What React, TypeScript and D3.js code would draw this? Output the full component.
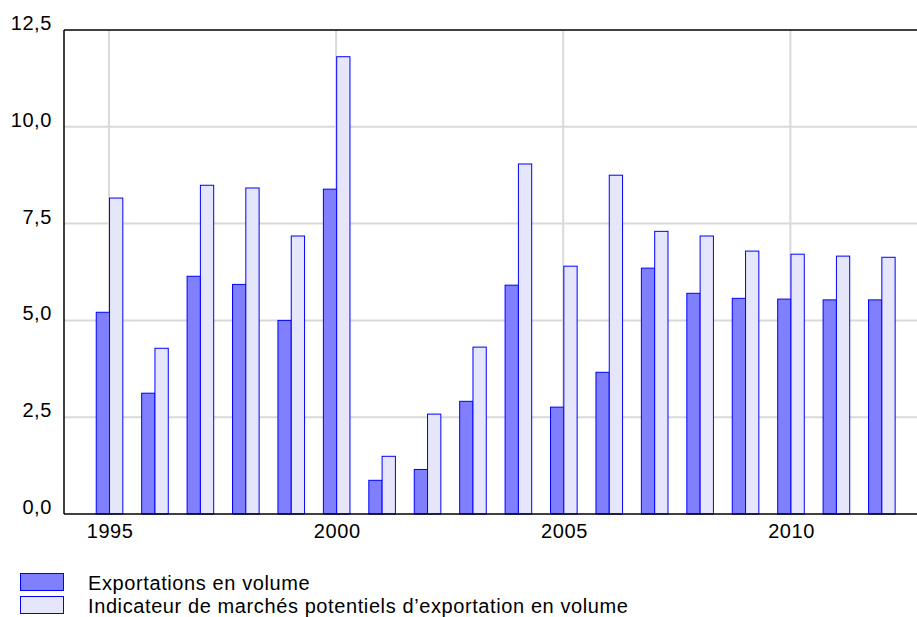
import React from "react";
import * as d3 from "d3";

const years = [1995, 1996, 1997, 1998, 1999, 2000, 2001, 2002, 2003, 2004, 2005, 2006, 2007, 2008, 2009, 2010, 2011, 2012];
const exportations = [5.21, 3.12, 6.14, 5.93, 5.0, 8.39, 0.87, 1.15, 2.91, 5.91, 2.76, 3.66, 6.35, 5.7, 5.57, 5.55, 5.53, 5.53];
const indicateur = [8.16, 4.28, 8.49, 8.42, 7.18, 11.81, 1.49, 2.58, 4.31, 9.04, 6.4, 8.75, 7.3, 7.18, 6.79, 6.71, 6.66, 6.63];
const yTicks = [0, 2.5, 5, 7.5, 10, 12.5];
const xTicks = [1995, 2000, 2005, 2010];
const seriesNames = ["Exportations en volume", "Indicateur de marchés potentiels d\u2019exportation en volume"];
const seriesKeys = ["exp", "ind"];

const FILLS = ["#8080ff", "#e6e6fa"];
const STROKE = "#0000ff";
const FONT = "'Liberation Sans', Arial, Helvetica, sans-serif";

export default function App() {
  const W = 917;
  const H = 617;
  const left = 64;
  const top = 30;
  const bottom = 514;
  const step = 45.43;

  const x = d3.scaleLinear().domain([1994, 2013]).range([left - 0.5, left - 0.5 + 19 * step]);
  const y = d3.scaleLinear().domain([0, 12.5]).range([bottom, top]);
  const sub = d3.scaleBand().domain(seriesKeys).range([-12.7, 13.9]).padding(0);
  const fmt = (v: number) => d3.format(".1f")(v).replace(".", ",");
  const data = [exportations, indicateur];
  const fs = 20;
  const ls = 0.6;

  return (
    <svg width={W} height={H} style={{ position: "absolute", left: 0, top: 0 }} fontFamily={FONT}>
      <rect x={0} y={0} width={W} height={H} fill="#fff" />
      {/* grid */}
      {yTicks.filter((t) => t > 0 && t < 12.5).map((t) => (
        <line key={"gy" + t} x1={left} x2={W} y1={y(t)} y2={y(t)} stroke="#d9d9d9" strokeWidth={2} />
      ))}
      {xTicks.map((t) => (
        <line key={"gx" + t} x1={x(t)} x2={x(t)} y1={top} y2={bottom} stroke="#d9d9d9" strokeWidth={2} />
      ))}
      {/* bars */}
      {data.map((vals, si) =>
        vals.map((v, i) => (
          <rect
            key={si + "-" + i}
            x={x(years[i]) + (sub(seriesKeys[si]) as number)}
            y={y(v)}
            width={sub.bandwidth()}
            height={y(0) - y(v)}
            fill={FILLS[si]}
            stroke={STROKE}
            strokeWidth={1}
          />
        ))
      )}
      {/* axes */}
      <line x1={left} x2={W} y1={top} y2={top} stroke="#000" strokeWidth={1.5} />
      <line x1={left} x2={W} y1={bottom} y2={bottom} stroke="#000" strokeWidth={1.5} />
      <line x1={left} x2={left} y1={top} y2={bottom} stroke="#000" strokeWidth={1.5} />
      {yTicks.map((t) => (
        <text key={"ty" + t} x={52} y={y(t)} textAnchor="end" fontSize={fs} letterSpacing={ls} fill="#000">
          {fmt(t)}
        </text>
      ))}
      {xTicks.map((t) => (
        <text key={"tx" + t} x={x(t) + 1.2} y={538} textAnchor="middle" fontSize={fs} letterSpacing={ls} fill="#000">
          {t}
        </text>
      ))}
      {/* legend */}
      {seriesNames.map((name, i) => (
        <g key={"lg" + i} transform={`translate(0, ${i * 23})`}>
          <rect x={20.5} y={573.5} width={43} height={17} fill={FILLS[i]} stroke={STROKE} strokeWidth={1} />
          <text x={88} y={590} fontSize={fs} letterSpacing={ls} fill="#000">
            {name}
          </text>
        </g>
      ))}
    </svg>
  );
}
